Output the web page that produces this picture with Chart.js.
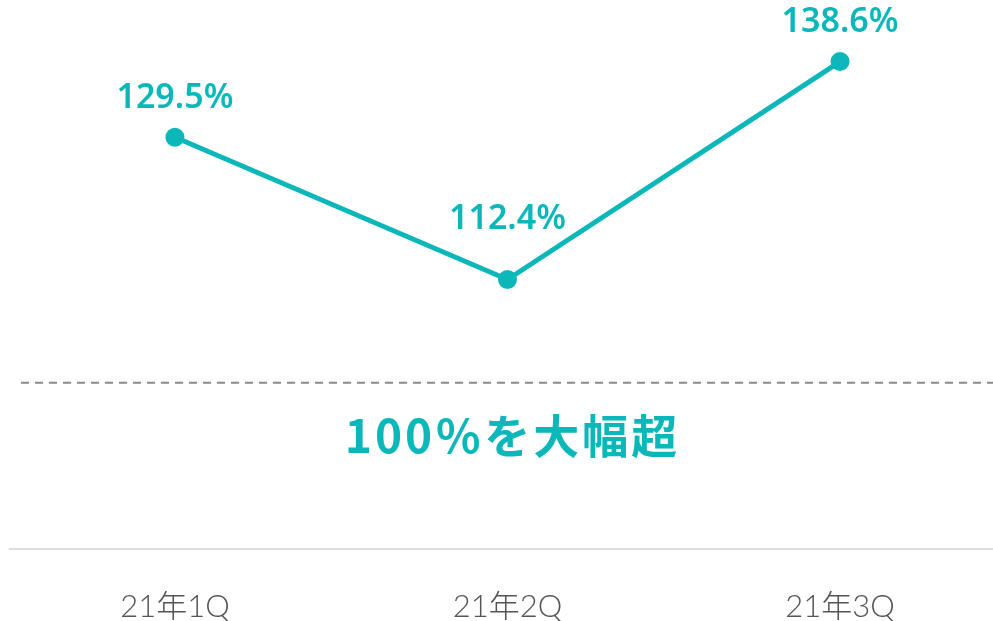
<!DOCTYPE html>
<html lang="ja">
<head>
<meta charset="utf-8">
<script src="https://cdn.jsdelivr.net/npm/chart.js@4.4.1/dist/chart.umd.min.js"></script>
<style>
  html, body { margin: 0; padding: 0; background: #fff; overflow: hidden; }
  canvas { display: block; }
</style>
</head>
<body>
<canvas id="grafica" width="993" height="621"></canvas>
<script>
// datos
const trimestres = ["21年1Q", "21年2Q", "21年3Q"];
const ratios = [129.5, 112.4, 138.6];
const lineaBase = 100;
const textoBase = "100％を大幅超";

const TEAL = "#0bb7b9";

// etiquetas sobre los puntos + linea punteada del 100%
const extras = {
    id: "extras",
    afterDatasetsDraw(chart) {
        const { ctx, scales: { x, y } } = chart;
        ctx.save();

        // linea 100%
        const yb = y.getPixelForValue(lineaBase);
        ctx.strokeStyle = "#8a8a8a";
        ctx.lineWidth = 2;
        ctx.setLineDash([8, 6]);
        ctx.beginPath();
        ctx.moveTo(21, yb);
        ctx.lineTo(chart.width, yb);
        ctx.stroke();
        ctx.setLineDash([]);

        // texto
        ctx.fillStyle = TEAL;
        ctx.font = "bold 46px 'Noto Sans CJK JP'";
        ctx.letterSpacing = "3px";
        ctx.textAlign = "center";
        ctx.textBaseline = "middle";
        ctx.fillText(textoBase, x.getPixelForValue(1) + 5, yb + 53);
        ctx.letterSpacing = "0px";

        // valores
        ctx.font = "600 34px 'Noto Sans'";
        const meta = chart.getDatasetMeta(0);
        meta.data.forEach((pt, i) => {
            const off = i === 1 ? 60 : 39;
            ctx.fillText(ratios[i].toFixed(1) + "%", pt.x, pt.y - off);
        });
        ctx.restore();
    }
};

new Chart(document.getElementById("grafica"), {
    type: "line",
    data: {
        datasets: [{
            data: ratios.map((v, i) => ({ x: i, y: v })),
            borderColor: TEAL,
            backgroundColor: TEAL,
            borderWidth: 5,
            pointRadius: 7,
            pointHoverRadius: 7,
            tension: 0,
            clip: false
        }]
    },
    options: {
        responsive: false,
        animation: false,
        layout: { autoPadding: false, padding: { left: 10, right: 0, top: 0, bottom: 0 } },
        plugins: {
            legend: { display: false },
            tooltip: { enabled: false }
        },
        scales: {
            x: {
                type: "linear",
                min: -0.496,
                max: 2.46,
                afterBuildTicks: axis => {
                    axis.ticks = trimestres.map((_, i) => ({ value: i }));
                },
                afterFit: axis => {
                    axis.height = 72;
                    axis.paddingLeft = 0;
                    axis.paddingRight = 0;
                },
                grid: { display: false, drawTicks: false },
                border: { display: true, color: "#dddddd", width: 2 },
                ticks: {
                    padding: 39,
                    color: "#555555",
                    font: { family: "Lato, 'Noto Sans CJK JP'", size: 31, weight: 300 },
                    maxRotation: 0,
                    autoSkip: false,
                    callback: v => trimestres[v]
                }
            },
            y: {
                display: false,
                min: 80,
                max: 146
            }
        }
    },
    plugins: [extras]
});
</script>
</body>
</html>
